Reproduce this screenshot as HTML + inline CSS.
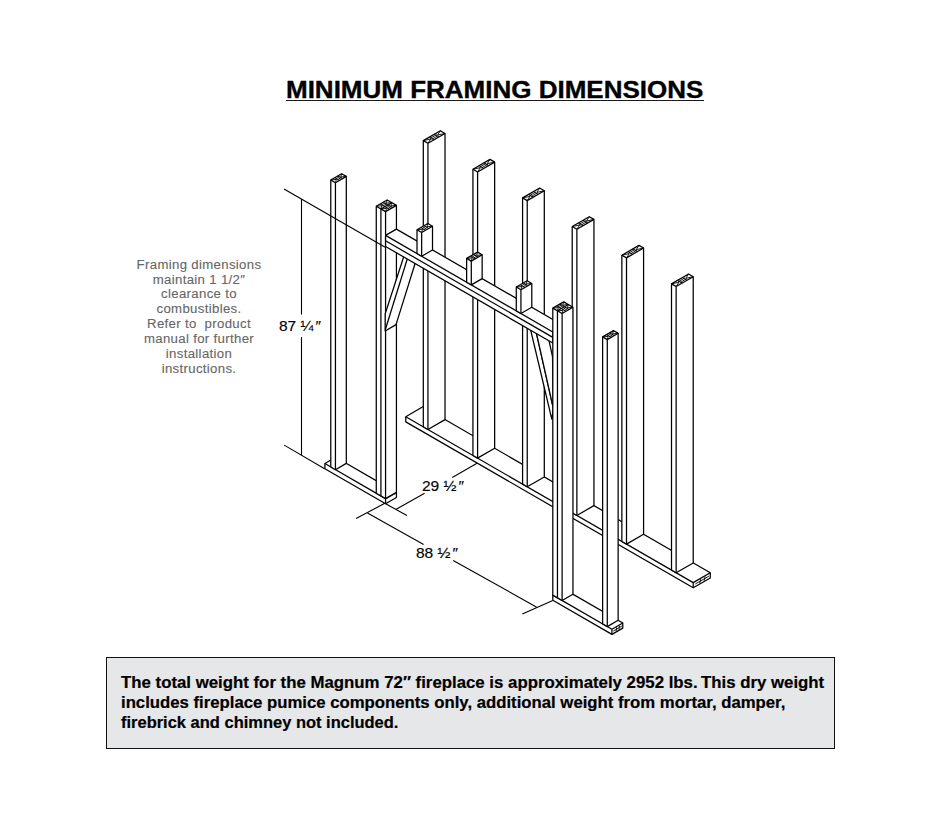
<!DOCTYPE html>
<html><head><meta charset="utf-8">
<style>
html,body{margin:0;padding:0;background:#fff;}
body{width:948px;height:837px;position:relative;overflow:hidden;font-family:"Liberation Sans",sans-serif;}
.title{position:absolute;left:286px;top:74.6px;font-weight:bold;font-size:24px;line-height:30px;white-space:nowrap;color:#000;transform-origin:0 0;transform:scaleX(1.083);-webkit-text-stroke:0.35px #000;}
.title u{text-decoration:none;}
.uline{position:absolute;left:286px;top:99.6px;width:418px;height:1.5px;background:#1a1a1a;}
.note{position:absolute;left:98.6px;top:257.6px;width:200px;text-align:center;color:#666;font-size:12px;line-height:14.91px;letter-spacing:0.3px;transform-origin:50% 0;transform:scaleX(1.1);-webkit-text-stroke:0.1px #666;}
.dim{position:absolute;font-size:15.5px;line-height:18px;color:#000;white-space:nowrap;-webkit-text-stroke:0.15px #000;}
.dim i{font-style:normal;margin-left:2px;}
.box{position:absolute;left:106px;top:657px;width:727px;height:90px;background:#e6e7e9;border:1px solid #111;}
.box p{margin:0;position:absolute;left:14px;font-weight:bold;font-size:15.8px;line-height:20px;height:20px;color:#000;white-space:nowrap;transform-origin:0 0;-webkit-text-stroke:0.2px #000;}
svg{position:absolute;left:0;top:0;}
/*HIDESVG*/
</style></head><body>
<svg width="948" height="837" viewBox="0 0 948 837">
<g fill="#fff" stroke="#000" stroke-width="1.25" stroke-linejoin="round" stroke-linecap="butt"><polygon points="405.77,421.88 693.22,587.82 710.28,577.97 710.28,572.77 422.83,406.83 405.77,416.68" fill="#fff"/>
<line x1="693.22" y1="582.62" x2="405.77" y2="416.68"/>
<line x1="693.22" y1="582.62" x2="710.28" y2="572.77"/>
<line x1="693.22" y1="582.62" x2="693.22" y2="587.82"/>
<line x1="695.27" y1="584.03" x2="708.92" y2="576.15" stroke-width="0.9" fill="none"/>
<line x1="699.70" y1="583.29" x2="700.73" y2="579.06" stroke-width="0.9" fill="none"/>
<line x1="704.14" y1="580.73" x2="705.16" y2="576.50" stroke-width="0.9" fill="none"/>
<polygon points="423.30,426.80 427.95,429.49 445.02,419.64 445.02,133.44 440.36,130.75 423.30,140.60" fill="#fff"/>
<line x1="427.95" y1="143.29" x2="423.30" y2="140.60"/>
<line x1="427.95" y1="143.29" x2="445.02" y2="133.44"/>
<line x1="427.95" y1="143.29" x2="427.95" y2="429.49"/>
<polyline points="423.30,140.60 430.75,138.99 427.95,143.29" fill="none" stroke-width="0.9" fill="none"/>
<polyline points="440.36,130.75 437.57,135.05 445.02,133.44" fill="none" stroke-width="0.9" fill="none"/>
<line x1="429.95" y1="138.53" x2="436.78" y2="134.59" stroke-width="0.9" fill="none"/>
<line x1="431.54" y1="139.44" x2="438.36" y2="135.50" stroke-width="0.9" fill="none"/>
<line x1="429.44" y1="137.05" x2="434.10" y2="139.74" stroke-width="0.9" fill="none"/>
<line x1="434.22" y1="134.30" x2="438.87" y2="136.98" stroke-width="0.9" fill="none"/>
<polygon points="472.94,455.46 477.59,458.14 494.66,448.29 494.66,162.09 490.00,159.41 472.94,169.26" fill="#fff"/>
<line x1="477.59" y1="171.94" x2="472.94" y2="169.26"/>
<line x1="477.59" y1="171.94" x2="494.66" y2="162.09"/>
<line x1="477.59" y1="171.94" x2="477.59" y2="458.14"/>
<polyline points="472.94,169.26 480.39,167.64 477.59,171.94" fill="none" stroke-width="0.9" fill="none"/>
<polyline points="490.00,159.41 487.21,163.70 494.66,162.09" fill="none" stroke-width="0.9" fill="none"/>
<line x1="479.59" y1="167.19" x2="486.42" y2="163.25" stroke-width="0.9" fill="none"/>
<line x1="481.18" y1="168.10" x2="488.00" y2="164.16" stroke-width="0.9" fill="none"/>
<line x1="479.08" y1="165.71" x2="483.74" y2="168.40" stroke-width="0.9" fill="none"/>
<line x1="483.86" y1="162.95" x2="488.51" y2="165.64" stroke-width="0.9" fill="none"/>
<polygon points="522.58,484.11 527.23,486.80 544.30,476.95 544.30,190.75 539.64,188.06 522.58,197.91" fill="#fff"/>
<line x1="527.23" y1="200.60" x2="522.58" y2="197.91"/>
<line x1="527.23" y1="200.60" x2="544.30" y2="190.75"/>
<line x1="527.23" y1="200.60" x2="527.23" y2="486.80"/>
<polyline points="522.58,197.91 530.03,196.30 527.23,200.60" fill="none" stroke-width="0.9" fill="none"/>
<polyline points="539.64,188.06 536.85,192.36 544.30,190.75" fill="none" stroke-width="0.9" fill="none"/>
<line x1="529.23" y1="195.84" x2="536.06" y2="191.90" stroke-width="0.9" fill="none"/>
<line x1="530.82" y1="196.76" x2="537.64" y2="192.82" stroke-width="0.9" fill="none"/>
<line x1="528.72" y1="194.37" x2="533.38" y2="197.05" stroke-width="0.9" fill="none"/>
<line x1="533.50" y1="191.61" x2="538.15" y2="194.29" stroke-width="0.9" fill="none"/>
<polygon points="572.22,512.77 576.87,515.45 593.94,505.60 593.94,219.40 589.28,216.72 572.22,226.57" fill="#fff"/>
<line x1="576.87" y1="229.25" x2="572.22" y2="226.57"/>
<line x1="576.87" y1="229.25" x2="593.94" y2="219.40"/>
<line x1="576.87" y1="229.25" x2="576.87" y2="515.45"/>
<polyline points="572.22,226.57 579.67,224.96 576.87,229.25" fill="none" stroke-width="0.9" fill="none"/>
<polyline points="589.28,216.72 586.49,221.02 593.94,219.40" fill="none" stroke-width="0.9" fill="none"/>
<line x1="578.87" y1="224.50" x2="585.70" y2="220.56" stroke-width="0.9" fill="none"/>
<line x1="580.46" y1="225.41" x2="587.28" y2="221.47" stroke-width="0.9" fill="none"/>
<line x1="578.36" y1="223.02" x2="583.02" y2="225.71" stroke-width="0.9" fill="none"/>
<line x1="583.14" y1="220.26" x2="587.79" y2="222.95" stroke-width="0.9" fill="none"/>
<polygon points="621.86,541.42 626.51,544.11 643.58,534.26 643.58,248.06 638.92,245.37 621.86,255.22" fill="#fff"/>
<line x1="626.51" y1="257.91" x2="621.86" y2="255.22"/>
<line x1="626.51" y1="257.91" x2="643.58" y2="248.06"/>
<line x1="626.51" y1="257.91" x2="626.51" y2="544.11"/>
<polyline points="621.86,255.22 629.31,253.61 626.51,257.91" fill="none" stroke-width="0.9" fill="none"/>
<polyline points="638.92,245.37 636.13,249.67 643.58,248.06" fill="none" stroke-width="0.9" fill="none"/>
<line x1="628.51" y1="253.16" x2="635.34" y2="249.22" stroke-width="0.9" fill="none"/>
<line x1="630.10" y1="254.07" x2="636.92" y2="250.13" stroke-width="0.9" fill="none"/>
<line x1="628.00" y1="251.68" x2="632.66" y2="254.36" stroke-width="0.9" fill="none"/>
<line x1="632.78" y1="248.92" x2="637.43" y2="251.61" stroke-width="0.9" fill="none"/>
<polygon points="671.50,570.08 676.15,572.77 693.22,562.92 693.22,276.72 688.56,274.03 671.50,283.88" fill="#fff"/>
<line x1="676.15" y1="286.57" x2="671.50" y2="283.88"/>
<line x1="676.15" y1="286.57" x2="693.22" y2="276.72"/>
<line x1="676.15" y1="286.57" x2="676.15" y2="572.77"/>
<polyline points="671.50,283.88 678.95,282.27 676.15,286.57" fill="none" stroke-width="0.9" fill="none"/>
<polyline points="688.56,274.03 685.77,278.33 693.22,276.72" fill="none" stroke-width="0.9" fill="none"/>
<line x1="678.15" y1="281.81" x2="684.98" y2="277.87" stroke-width="0.9" fill="none"/>
<line x1="679.74" y1="282.72" x2="686.56" y2="278.78" stroke-width="0.9" fill="none"/>
<line x1="677.64" y1="280.33" x2="682.30" y2="283.02" stroke-width="0.9" fill="none"/>
<line x1="682.42" y1="277.58" x2="687.07" y2="280.26" stroke-width="0.9" fill="none"/>
<polygon points="324.89,468.68 385.57,503.71 396.43,497.44 396.43,492.34 335.75,457.31 324.89,463.58" fill="#fff"/>
<line x1="385.57" y1="498.61" x2="324.89" y2="463.58"/>
<line x1="385.57" y1="498.61" x2="396.43" y2="492.34"/>
<line x1="385.57" y1="498.61" x2="385.57" y2="503.71"/>
<polygon points="330.78,466.98 335.44,469.67 346.30,463.40 346.30,176.40 341.64,173.71 330.78,179.98" fill="#fff"/>
<line x1="335.44" y1="182.67" x2="330.78" y2="179.98"/>
<line x1="335.44" y1="182.67" x2="346.30" y2="176.40"/>
<line x1="335.44" y1="182.67" x2="335.44" y2="469.67"/>
<polyline points="330.78,179.98 336.37,179.45 335.44,182.67" fill="none" stroke-width="0.9" fill="none"/>
<polyline points="341.64,173.71 340.71,176.94 346.30,176.40" fill="none" stroke-width="0.9" fill="none"/>
<line x1="335.58" y1="178.99" x2="339.92" y2="176.48" stroke-width="0.9" fill="none"/>
<line x1="337.16" y1="179.90" x2="341.50" y2="177.39" stroke-width="0.9" fill="none"/>
<line x1="334.69" y1="177.73" x2="339.35" y2="180.41" stroke-width="0.9" fill="none"/>
<line x1="337.73" y1="175.97" x2="342.39" y2="178.66" stroke-width="0.9" fill="none"/>
<polygon points="376.27,493.24 385.57,498.61 396.43,492.34 396.43,205.34 387.12,199.97 376.27,206.24" fill="#fff"/>
<line x1="385.57" y1="211.61" x2="376.27" y2="206.24"/>
<line x1="385.57" y1="211.61" x2="396.43" y2="205.34"/>
<line x1="385.57" y1="211.61" x2="385.57" y2="498.61"/>
<line x1="380.92" y1="495.93" x2="380.92" y2="208.93"/>
<line x1="380.92" y1="208.93" x2="391.78" y2="202.66"/>
<polyline points="376.27,206.24 381.85,205.70 380.92,208.93" fill="none" stroke-width="0.9" fill="none"/>
<polyline points="387.12,199.97 386.19,203.19 391.78,202.66" fill="none" stroke-width="0.9" fill="none"/>
<line x1="381.06" y1="205.24" x2="385.40" y2="202.74" stroke-width="0.9" fill="none"/>
<line x1="382.64" y1="206.16" x2="386.99" y2="203.65" stroke-width="0.9" fill="none"/>
<line x1="380.18" y1="203.98" x2="384.83" y2="206.67" stroke-width="0.9" fill="none"/>
<line x1="383.22" y1="202.23" x2="387.87" y2="204.91" stroke-width="0.9" fill="none"/>
<polyline points="380.92,208.93 386.50,208.39 385.57,211.61" fill="none" stroke-width="0.9" fill="none"/>
<polyline points="391.78,202.66 390.85,205.88 396.43,205.34" fill="none" stroke-width="0.9" fill="none"/>
<line x1="385.71" y1="207.93" x2="390.06" y2="205.42" stroke-width="0.9" fill="none"/>
<line x1="387.30" y1="208.84" x2="391.64" y2="206.34" stroke-width="0.9" fill="none"/>
<line x1="384.83" y1="206.67" x2="389.48" y2="209.35" stroke-width="0.9" fill="none"/>
<line x1="387.87" y1="204.91" x2="392.52" y2="207.60" stroke-width="0.9" fill="none"/>
<polygon points="385.20,313.80 404.60,254.00 416.20,260.00 396.00,324.60 385.20,331.00" fill="#fff"/>
<line x1="408.50" y1="255.00" x2="385.20" y2="330.00"/>
<polygon points="529.70,326.00 535.50,329.00 553.40,408.70 551.80,419.20" fill="#fff"/>
<polygon points="535.50,329.00 548.00,336.00 552.50,356.70 553.40,408.70" fill="#fff"/>
<polygon points="385.57,246.51 552.80,343.05 563.66,336.78 563.66,325.68 396.43,229.14 385.57,235.41" fill="#fff"/>
<line x1="552.80" y1="331.95" x2="385.57" y2="235.41"/>
<line x1="552.80" y1="331.95" x2="563.66" y2="325.68"/>
<line x1="552.80" y1="331.95" x2="552.80" y2="343.05"/>
<line x1="385.57" y1="240.81" x2="552.80" y2="337.35"/>
<polygon points="417.00,253.55 421.66,256.24 432.51,249.97 432.51,226.17 427.86,223.49 417.00,229.75" fill="#fff"/>
<line x1="421.66" y1="232.44" x2="417.00" y2="229.75"/>
<line x1="421.66" y1="232.44" x2="432.51" y2="226.17"/>
<line x1="421.66" y1="232.44" x2="421.66" y2="256.24"/>
<polyline points="417.00,229.75 422.59,229.22 421.66,232.44" fill="none" stroke-width="0.9" fill="none"/>
<polyline points="427.86,223.49 426.93,226.71 432.51,226.17" fill="none" stroke-width="0.9" fill="none"/>
<line x1="421.80" y1="228.76" x2="426.14" y2="226.25" stroke-width="0.9" fill="none"/>
<line x1="423.38" y1="229.67" x2="427.72" y2="227.17" stroke-width="0.9" fill="none"/>
<line x1="420.91" y1="227.50" x2="425.56" y2="230.18" stroke-width="0.9" fill="none"/>
<line x1="423.95" y1="225.74" x2="428.61" y2="228.43" stroke-width="0.9" fill="none"/>
<polygon points="466.64,282.21 471.30,284.90 482.15,278.63 482.15,254.83 477.50,252.14 466.64,258.41" fill="#fff"/>
<line x1="471.30" y1="261.10" x2="466.64" y2="258.41"/>
<line x1="471.30" y1="261.10" x2="482.15" y2="254.83"/>
<line x1="471.30" y1="261.10" x2="471.30" y2="284.90"/>
<polyline points="466.64,258.41 472.23,257.87 471.30,261.10" fill="none" stroke-width="0.9" fill="none"/>
<polyline points="477.50,252.14 476.57,255.37 482.15,254.83" fill="none" stroke-width="0.9" fill="none"/>
<line x1="471.44" y1="257.42" x2="475.78" y2="254.91" stroke-width="0.9" fill="none"/>
<line x1="473.02" y1="258.33" x2="477.36" y2="255.82" stroke-width="0.9" fill="none"/>
<line x1="470.55" y1="256.15" x2="475.20" y2="258.84" stroke-width="0.9" fill="none"/>
<line x1="473.59" y1="254.40" x2="478.25" y2="257.09" stroke-width="0.9" fill="none"/>
<polygon points="516.28,310.87 520.94,313.55 531.79,307.28 531.79,283.48 527.14,280.80 516.28,287.07" fill="#fff"/>
<line x1="520.94" y1="289.75" x2="516.28" y2="287.07"/>
<line x1="520.94" y1="289.75" x2="531.79" y2="283.48"/>
<line x1="520.94" y1="289.75" x2="520.94" y2="313.55"/>
<polyline points="516.28,287.07 521.87,286.53 520.94,289.75" fill="none" stroke-width="0.9" fill="none"/>
<polyline points="527.14,280.80 526.21,284.02 531.79,283.48" fill="none" stroke-width="0.9" fill="none"/>
<line x1="521.08" y1="286.07" x2="525.42" y2="283.57" stroke-width="0.9" fill="none"/>
<line x1="522.66" y1="286.99" x2="527.00" y2="284.48" stroke-width="0.9" fill="none"/>
<line x1="520.19" y1="284.81" x2="524.84" y2="287.50" stroke-width="0.9" fill="none"/>
<line x1="523.23" y1="283.05" x2="527.89" y2="285.74" stroke-width="0.9" fill="none"/>
<polygon points="552.80,600.25 611.93,634.38 622.79,628.11 622.79,623.01 563.66,588.88 552.80,595.15" fill="#fff"/>
<line x1="611.93" y1="629.28" x2="552.80" y2="595.15"/>
<line x1="611.93" y1="629.28" x2="622.79" y2="623.01"/>
<line x1="611.93" y1="629.28" x2="611.93" y2="634.38"/>
<line x1="613.24" y1="631.08" x2="621.92" y2="626.07" stroke-width="0.9" fill="none"/>
<line x1="616.06" y1="631.24" x2="616.71" y2="627.29" stroke-width="0.9" fill="none"/>
<line x1="618.88" y1="629.61" x2="619.53" y2="625.66" stroke-width="0.9" fill="none"/>
<polygon points="552.80,595.15 562.11,600.52 572.96,594.25 572.96,307.25 563.66,301.88 552.80,308.15" fill="#fff"/>
<line x1="562.11" y1="313.52" x2="552.80" y2="308.15"/>
<line x1="562.11" y1="313.52" x2="572.96" y2="307.25"/>
<line x1="562.11" y1="313.52" x2="562.11" y2="600.52"/>
<line x1="557.45" y1="597.83" x2="557.45" y2="310.83"/>
<line x1="557.45" y1="310.83" x2="568.31" y2="304.56"/>
<polyline points="552.80,308.15 558.38,307.61 557.45,310.83" fill="none" stroke-width="0.9" fill="none"/>
<polyline points="563.66,301.88 562.73,305.10 568.31,304.56" fill="none" stroke-width="0.9" fill="none"/>
<line x1="557.59" y1="307.15" x2="561.94" y2="304.65" stroke-width="0.9" fill="none"/>
<line x1="559.17" y1="308.07" x2="563.52" y2="305.56" stroke-width="0.9" fill="none"/>
<line x1="556.71" y1="305.89" x2="561.36" y2="308.58" stroke-width="0.9" fill="none"/>
<line x1="559.75" y1="304.13" x2="564.40" y2="306.82" stroke-width="0.9" fill="none"/>
<polyline points="557.45,310.83 563.04,310.30 562.11,313.52" fill="none" stroke-width="0.9" fill="none"/>
<polyline points="568.31,304.56 567.38,307.79 572.96,307.25" fill="none" stroke-width="0.9" fill="none"/>
<line x1="562.25" y1="309.84" x2="566.59" y2="307.33" stroke-width="0.9" fill="none"/>
<line x1="563.83" y1="310.75" x2="568.17" y2="308.25" stroke-width="0.9" fill="none"/>
<line x1="561.36" y1="308.58" x2="566.01" y2="311.26" stroke-width="0.9" fill="none"/>
<line x1="564.40" y1="306.82" x2="569.06" y2="309.51" stroke-width="0.9" fill="none"/>
<polygon points="602.62,623.91 607.28,626.60 618.14,620.33 618.14,333.33 613.48,330.64 602.62,336.91" fill="#fff"/>
<line x1="607.28" y1="339.60" x2="602.62" y2="336.91"/>
<line x1="607.28" y1="339.60" x2="618.14" y2="333.33"/>
<line x1="607.28" y1="339.60" x2="607.28" y2="626.60"/>
<polyline points="602.62,336.91 608.21,336.37 607.28,339.60" fill="none" stroke-width="0.9" fill="none"/>
<polyline points="613.48,330.64 612.55,333.87 618.14,333.33" fill="none" stroke-width="0.9" fill="none"/>
<line x1="607.42" y1="335.92" x2="611.76" y2="333.41" stroke-width="0.9" fill="none"/>
<line x1="609.00" y1="336.83" x2="613.34" y2="334.32" stroke-width="0.9" fill="none"/>
<line x1="606.53" y1="334.65" x2="611.19" y2="337.34" stroke-width="0.9" fill="none"/>
<line x1="609.57" y1="332.90" x2="614.23" y2="335.58" stroke-width="0.9" fill="none"/></g>
<g stroke="#000" stroke-width="1.1"><line x1="284.00" y1="189.00" x2="385.20" y2="247.20"/>
<line x1="284.20" y1="445.10" x2="324.60" y2="468.70"/>
<line x1="301.50" y1="199.00" x2="301.50" y2="314.60"/>
<line x1="301.50" y1="337.10" x2="301.50" y2="455.20"/>
<line x1="384.80" y1="503.30" x2="356.10" y2="518.60"/>
<line x1="384.80" y1="503.30" x2="406.90" y2="515.50"/>
<line x1="396.20" y1="509.30" x2="424.60" y2="493.30"/>
<line x1="452.30" y1="477.40" x2="477.00" y2="463.30"/>
<line x1="367.50" y1="512.90" x2="423.60" y2="544.60"/>
<line x1="453.20" y1="560.40" x2="536.70" y2="607.20"/>
<line x1="552.80" y1="600.40" x2="522.30" y2="614.10"/></g>
</svg>
<div class="title"><u>MINIMUM FRAMING DIMENSIONS</u></div><div class="uline"></div>
<div class="note">Framing dimensions<br>maintain 1 1/2&#8243;<br>clearance to<br>combustibles.<br>Refer to&nbsp; product<br>manual for further<br>installation<br>instructions.</div>
<div class="dim" style="left:279px;top:316.8px;">87 &#188;<i>&#8243;</i></div>
<div class="dim" style="left:422px;top:476.8px;">29 &#189;<i>&#8243;</i></div>
<div class="dim" style="left:416px;top:544px;">88 &#189;<i>&#8243;</i></div>
<div class="box"><p style="top:15px;transform:scaleX(1.0635)">The total weight for the Magnum 72&#8243; fireplace is approximately 2952 lbs.&#8201;This dry weight</p><p style="top:35px;transform:scaleX(1.059)">includes fireplace pumice components only, additional weight from mortar, damper,</p><p style="top:55px;transform:scaleX(1.043)">firebrick and chimney not included.</p></div>
</body></html>
